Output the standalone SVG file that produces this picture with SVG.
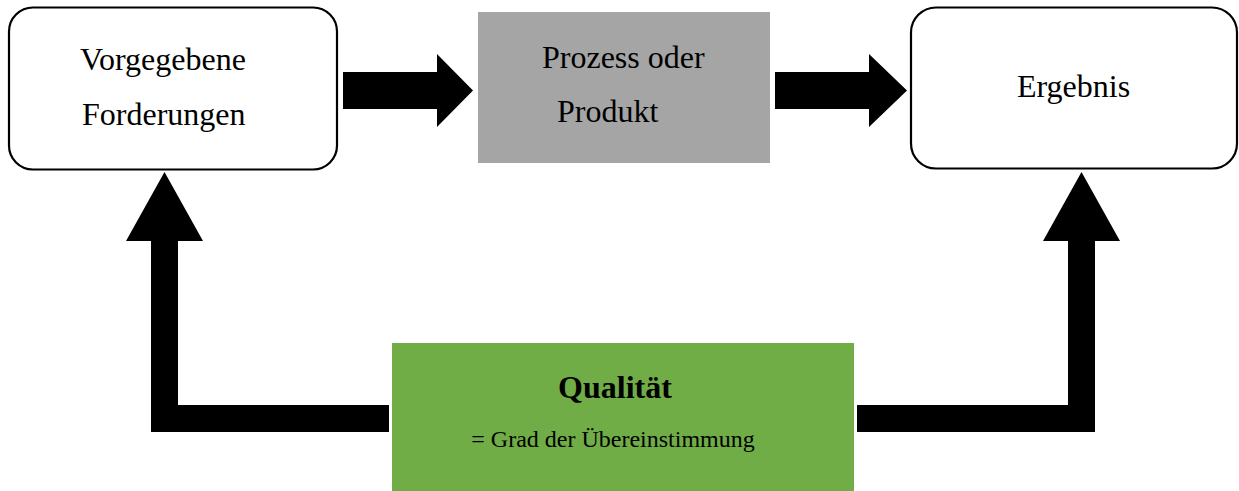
<svg xmlns="http://www.w3.org/2000/svg" width="1239" height="491" viewBox="0 0 1239 491">
  <style>
    .box { fill: #ffffff; stroke: #000000; stroke-width: 2.2; }
    .lbl { font-family: "Liberation Serif", "Times New Roman", serif; font-size: 32px; fill: #000000; }
    .title { font-family: "Liberation Serif", "Times New Roman", serif; font-size: 32px; font-weight: bold; fill: #000000; }
    .sub { font-family: "Liberation Serif", "Times New Roman", serif; font-size: 24px; fill: #000000; }
    .arrow { fill: #000000; }
  </style>
  <rect width="1239" height="491" fill="#ffffff"/>

  <g id="connectors">
    <!-- Forderungen -> Prozess -->
    <polygon class="arrow" points="343,72 437,72 437,54 473,90.5 437,127 437,109 343,109"/>
    <!-- Prozess -> Ergebnis -->
    <polygon class="arrow" points="775,72 869,72 869,54 907,90.5 869,127 869,109 775,109"/>
    <!-- Qualität -> Vorgegebene Forderungen -->
    <polygon class="arrow" points="389,405 178,405 178,241 203,241 164.5,172 126,241 151,241 151,432 389,432"/>
    <!-- Qualität -> Ergebnis -->
    <polygon class="arrow" points="857,405 1068,405 1068,241 1043,241 1081.5,172 1120,241 1095,241 1095,432 857,432"/>
  </g>

  <g id="node-forderungen">
    <rect class="box" x="9" y="7.5" width="328" height="162" rx="24" ry="24"/>
    <text class="lbl" x="80" y="70">Vorgegebene</text>
    <text class="lbl" x="82" y="125">Forderungen</text>
  </g>

  <g id="node-prozess">
    <rect x="478" y="12" width="292" height="151" fill="#a5a5a5"/>
    <text class="lbl" x="542" y="68">Prozess oder</text>
    <text class="lbl" x="557" y="122">Produkt</text>
  </g>

  <g id="node-ergebnis">
    <rect class="box" x="911" y="7.5" width="326" height="161" rx="25" ry="25"/>
    <text class="lbl" x="1073.5" y="97" text-anchor="middle">Ergebnis</text>
  </g>

  <g id="node-qualitaet">
    <rect x="392" y="343" width="462" height="150" fill="#70ad47"/>
    <text class="title" x="615" y="398" text-anchor="middle">Qualität</text>
    <text class="sub" x="613" y="447" text-anchor="middle">= Grad der Übereinstimmung</text>
  </g>
</svg>
